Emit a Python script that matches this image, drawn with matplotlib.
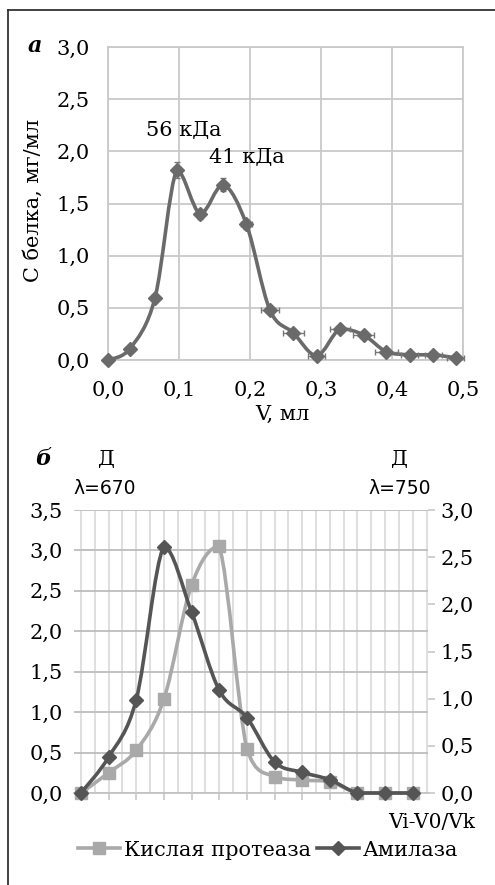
import numpy as np
import matplotlib
matplotlib.use("Agg")
import matplotlib.pyplot as plt
from matplotlib.path import Path
from matplotlib.patches import PathPatch
from matplotlib.lines import Line2D
from matplotlib.ticker import FuncFormatter, MultipleLocator

plt.rcParams['font.family'] = ['DejaVu Serif']

# --- панель а: профиль белка ---
v_ml = [0.0, 0.031, 0.066, 0.097, 0.13, 0.162, 0.195, 0.228,
        0.261, 0.294, 0.327, 0.36, 0.392, 0.425, 0.458, 0.49]
c_protein = [0.0, 0.11, 0.59, 1.82, 1.40, 1.68, 1.30, 0.48,
             0.26, 0.04, 0.30, 0.24, 0.08, 0.05, 0.05, 0.02]
c_err = [0, 0, 0, 0.08, 0.05, 0.06, 0.04, 0.03,
         0.02, 0.02, 0.02, 0.02, 0.02, 0.0, 0.0, 0.0]
v_err = [0, 0, 0, 0, 0, 0, 0.008, 0.013,
         0.015, 0.012, 0.014, 0.015, 0.016, 0.012, 0.012, 0.012]
peak_labels = ["56 кДа", "41 кДа"]

# --- панель б: активности ферментов ---
fraction = list(range(13))
protease = [0.0, 0.25, 0.53, 1.16, 2.57, 3.05, 0.55, 0.20, 0.16, 0.14, 0.0, 0.0, 0.0]
amylase = [0.0, 0.38, 0.99, 2.61, 1.92, 1.09, 0.80, 0.33, 0.22, 0.14, 0.0, 0.0, 0.0]

DARK = '#555555'
LIGHT = '#a9a9a9'
GRID = '#c9c9c9'
FS = 15


def comma(x, pos):
    return f"{x:.1f}".replace('.', ',')


def smooth_path(ax, xs, ys, color, lw, zorder=3, k=6.0):
    # catmull-rom -> bezier, контрольные точки не выходят за концы отрезка
    p = np.column_stack([xs, ys]).astype(float)
    n = len(p)
    verts = [p[0]]
    codes = [Path.MOVETO]
    for i in range(n - 1):
        p0 = p[i - 1] if i > 0 else p[i]
        p3 = p[i + 2] if i + 2 < n else p[i + 1]
        c1 = p[i] + (p[i + 1] - p0) / k
        c2 = p[i + 1] - (p3 - p[i]) / k
        lo, hi = min(p[i][1], p[i + 1][1]), max(p[i][1], p[i + 1][1])
        c1[1] = np.clip(c1[1], lo, hi)
        c2[1] = np.clip(c2[1], lo, hi)
        verts += [c1, c2, p[i + 1]]
        codes += [Path.CURVE4] * 3
    ax.add_patch(PathPatch(Path(verts, codes), fill=False, edgecolor=color,
                           lw=lw, zorder=zorder, capstyle='round', clip_on=False))


fig = plt.figure(figsize=(4.95, 8.85), dpi=100)

# рамка
fig.add_artist(Line2D([8 / 495, 8 / 495], [0, 1 - 10 / 885], color='#333333', lw=1.3))
fig.add_artist(Line2D([8 / 495, 1], [1 - 10 / 885, 1 - 10 / 885], color='#333333', lw=1.3))

# ---------- а ----------
ax = fig.add_axes([108 / 495, 1 - 360 / 885, 355 / 495, 313 / 885])
ax.set_xlim(0, 0.5)
ax.set_ylim(0, 3.0)
ax.xaxis.set_major_locator(MultipleLocator(0.1))
ax.yaxis.set_major_locator(MultipleLocator(0.5))
ax.xaxis.set_major_formatter(FuncFormatter(comma))
ax.yaxis.set_major_formatter(FuncFormatter(comma))
ax.grid(True, color=GRID, lw=1.3)
ax.set_axisbelow(True)
for s in ax.spines.values():
    s.set_color(GRID)
    s.set_linewidth(1.3)
ax.tick_params(axis='y', length=0, labelsize=FS, pad=13)
ax.tick_params(axis='x', length=0, labelsize=FS, pad=15)
smooth_path(ax, v_ml, c_protein, '#6a6a6a', 2.6)
ax.errorbar(v_ml, c_protein, yerr=c_err, xerr=v_err, fmt='none', ecolor='#777777',
            elinewidth=1.0, capsize=2.5, zorder=4, clip_on=False)
ax.plot(v_ml, c_protein, ls='none', marker='D', ms=7.5, color='#6a6a6a', zorder=5, clip_on=False)
fig.text(282 / 495, 1 - 414 / 885, "V, мл", fontsize=FS, ha='center', va='center')
fig.text(33 / 495, 1 - 200 / 885, "С белка, мг/мл", fontsize=FS, rotation=90,
         ha='center', va='center')
ax.text(0.107, 2.2, peak_labels[0], fontsize=FS, ha='center', va='center')
ax.text(0.196, 1.94, peak_labels[1], fontsize=FS, ha='center', va='center')
fig.text(35 / 495, 1 - 46 / 885, "а", fontsize=16, style='italic', weight='bold', ha='center', va='center')

# ---------- б ----------
bx = fig.add_axes([74 / 495, 1 - 793 / 885, 354 / 495, 283 / 885])
bx.set_xlim(-0.25, 12.55)
bx.set_ylim(0, 3.5)
bx.yaxis.set_major_locator(MultipleLocator(0.5))
bx.yaxis.set_major_formatter(FuncFormatter(comma))
bx.xaxis.set_major_locator(MultipleLocator(1))
bx.xaxis.set_minor_locator(MultipleLocator(0.5))
bx.xaxis.set_major_formatter(FuncFormatter(lambda x, p: ""))
bx.grid(True, axis='x', which='both', color='#d6d6d6', lw=1.1)
bx.grid(True, axis='y', which='major', color='#bdbdbd', lw=1.3)
bx.set_axisbelow(True)
for s in bx.spines.values():
    s.set_visible(False)
bx.spines['bottom'].set_visible(True)
bx.spines['bottom'].set_color('#c4c4c4')
bx.spines['bottom'].set_linewidth(1.3)
bx.tick_params(axis='y', length=0, labelsize=FS, pad=8)
bx.tick_params(axis='x', which='major', length=5, color='#c4c4c4', width=1.1)
bx.tick_params(axis='x', which='minor', length=0)

bx2 = bx.twinx()
bx2.set_ylim(0, 3.0)
bx2.yaxis.set_major_locator(MultipleLocator(0.5))
bx2.yaxis.set_major_formatter(FuncFormatter(comma))
for s in bx2.spines.values():
    s.set_visible(False)
bx2.tick_params(axis='y', length=5, color='#c4c4c4', width=1.1, labelsize=FS, pad=4)

smooth_path(bx, fraction, protease, LIGHT, 2.6)
bx.plot(fraction, protease, ls='none', marker='s', ms=9, color=LIGHT, zorder=5, clip_on=False)
smooth_path(bx2, fraction, amylase, DARK, 2.6)
bx2.plot(fraction, amylase, ls='none', marker='D', ms=7.5, color=DARK, zorder=5, clip_on=False)

fig.text(43 / 495, 1 - 459 / 885, "б", fontsize=16, style='italic', weight='bold', ha='center', va='center')
fig.text(106 / 495, 1 - 459 / 885, "Д", fontsize=FS, ha='center', va='center')
fig.text(105 / 495, 1 - 488 / 885, "λ=670", fontsize=13.5, family='DejaVu Sans', ha='center', va='center')
fig.text(399 / 495, 1 - 459 / 885, "Д", fontsize=FS, ha='center', va='center')
fig.text(400 / 495, 1 - 488 / 885, "λ=750", fontsize=13.5, family='DejaVu Sans', ha='center', va='center')
fig.text(475 / 495, 1 - 823 / 885, "Vi-V0/Vk", fontsize=14.5, ha='right', va='center')

handles = [Line2D([], [], color=LIGHT, lw=2.6, marker='s', ms=9),
           Line2D([], [], color=DARK, lw=2.6, marker='D', ms=7.5)]
fig.legend(handles, ["Кислая протеаза", "Амилаза"], loc='center', ncol=2,
           bbox_to_anchor=(268 / 495, 1 - 850 / 885), frameon=False, fontsize=FS,
           handlelength=2.0, handletextpad=0.2, columnspacing=0.3, borderpad=0)

fig.savefig("out.png", dpi=100)
